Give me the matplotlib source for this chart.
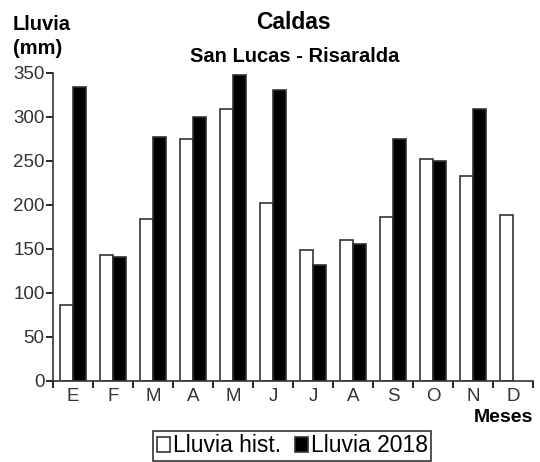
import numpy as np
import matplotlib
matplotlib.use('Agg')
from matplotlib import pyplot as plt

# Datos
meses = ['E', 'F', 'M', 'A', 'M', 'J', 'J', 'A', 'S', 'O', 'N', 'D']
lluvia_hist = [86, 143, 184, 275, 309, 202, 149, 160, 186, 252, 233, 188]
lluvia_2018 = [334, 141, 277, 299, 347, 330, 131, 155, 274, 249, 309, np.nan]

plt.rcParams['font.family'] = ['Liberation Sans', 'DejaVu Sans']

fig = plt.figure(figsize=(5.4, 4.62), dpi=100)
ax = fig.add_axes([0.098, 0.176, 0.889, 0.667])

x = np.arange(len(meses))
w = 0.32
ax.bar(x - w / 2, lluvia_hist, w, color='white', edgecolor='#333333', linewidth=1.2, label='Lluvia hist.')
ax.bar(x + w / 2, lluvia_2018, w, color='black', edgecolor='#333333', linewidth=1.2, label='Lluvia 2018')

ax.set_xlim(-0.5, len(meses) - 0.5)
ax.set_ylim(0, 350)
ax.set_yticks(np.arange(0, 351, 50))
ax.set_xticks(x)
ax.set_xticklabels(meses)
ax.set_xticks(np.arange(-0.5, len(meses)), minor=True)
ax.tick_params(axis='x', which='major', length=0, labelsize=13.5, colors='#333333', pad=5)
ax.tick_params(axis='x', which='minor', length=5, width=1.2, direction='out')
ax.tick_params(axis='y', length=5, width=1.2, labelsize=13.5, labelcolor='#333333', pad=1)
for s in ['top', 'right']:
    ax.spines[s].set_visible(False)
for s in ['left', 'bottom']:
    ax.spines[s].set_linewidth(1.2)
    ax.spines[s].set_color('#333333')

fig.text(0.544, 0.951, 'Caldas', ha='center', va='center', fontsize=16.5, fontweight='bold')
fig.text(0.545, 0.877, 'San Lucas - Risaralda', ha='center', va='center', fontsize=14.5, fontweight='bold')
fig.text(0.024, 0.946, 'Lluvia', ha='left', va='center', fontsize=14.5, fontweight='bold')
fig.text(0.024, 0.894, '(mm)', ha='left', va='center', fontsize=14.5, fontweight='bold')
fig.text(0.988, 0.097, 'Meses', ha='right', va='center', fontsize=14, fontweight='bold')

leg = fig.legend(loc='center', bbox_to_anchor=(0.541, 0.035), ncol=2, fontsize=16.5,
                 handlelength=0.6, handleheight=0.6, handletextpad=0.1, columnspacing=0.6,
                 fancybox=False, edgecolor='black', borderpad=0.15)
leg.get_frame().set_linewidth(1.2)

fig.savefig('out.png', dpi=100)
